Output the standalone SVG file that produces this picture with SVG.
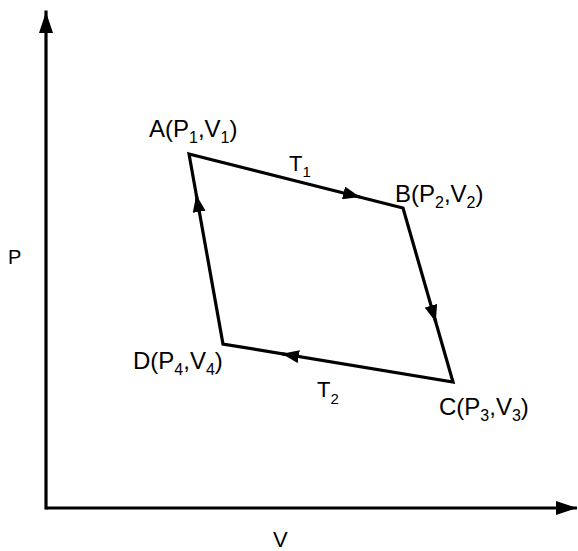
<svg xmlns="http://www.w3.org/2000/svg" width="578" height="551" viewBox="0 0 578 551">
<style>
.ln{fill:none;stroke:#000;stroke-width:3.2;stroke-linejoin:miter}
.t{font-family:"Liberation Sans",Arial,sans-serif;fill:#000}
.lbl{font-size:24px}
.ax{font-size:22px}
.sub{font-size:16px}
.tsub{font-size:15px}
</style>
<defs>
<marker id="ah" viewBox="0 0 17 13" refX="17" refY="6.5" markerWidth="17" markerHeight="13" markerUnits="userSpaceOnUse" orient="auto">
<path d="M0,0 L17,6.5 L0,13 z" fill="#000"/>
</marker>
<marker id="axh" viewBox="0 0 21 14" refX="21" refY="7" markerWidth="21" markerHeight="14" markerUnits="userSpaceOnUse" orient="auto">
<path d="M0,0 L21,7 L0,14 z" fill="#000"/>
</marker>
</defs>
<rect width="578" height="551" fill="#fff"/>
<g id="connectors">
<path class="ln" d="M46,508 V12" marker-end="url(#axh)" style="stroke-linecap:square"/>
<path class="ln" d="M46,508 H577" marker-end="url(#axh)"/>
<path class="ln" d="M189,154 L403,208 L453,382 L223,344 Z"/>
<path class="ln" d="M350,194.5 L360,197" marker-end="url(#ah)"/>
<path class="ln" d="M432.9,312.4 L435.8,322" marker-end="url(#ah)"/>
<path class="ln" d="M292,355.5 L282,353.8" marker-end="url(#ah)"/>
<path class="ln" d="M198,205 L196.3,195" marker-end="url(#ah)"/>
</g>
<g id="A"><text class="t lbl" x="149" y="137">A(P<tspan class="sub" dy="6">1</tspan><tspan dy="-6">,V</tspan><tspan class="sub" dy="6">1</tspan><tspan dy="-6">)</tspan></text></g>
<g id="B"><text class="t lbl" x="395" y="202">B(P<tspan class="sub" dy="6">2</tspan><tspan dy="-6">,V</tspan><tspan class="sub" dy="6">2</tspan><tspan dy="-6">)</tspan></text></g>
<g id="C"><text class="t lbl" x="439" y="415">C(P<tspan class="sub" dy="6">3</tspan><tspan dy="-6">,V</tspan><tspan class="sub" dy="6">3</tspan><tspan dy="-6">)</tspan></text></g>
<g id="D"><text class="t lbl" x="133" y="369">D(P<tspan class="sub" dy="6">4</tspan><tspan dy="-6">,V</tspan><tspan class="sub" dy="6">4</tspan><tspan dy="-6">)</tspan></text></g>
<g id="T1"><text class="t ax" x="289" y="171">T<tspan class="tsub" dy="6">1</tspan></text></g>
<g id="T2"><text class="t ax" x="317" y="397">T<tspan class="tsub" dy="7">2</tspan></text></g>
<g id="Plabel"><text class="t" style="font-size:20px" x="8" y="264">P</text></g>
<g id="Vlabel"><text class="t" style="font-size:22px" x="273" y="547">V</text></g>
</svg>
